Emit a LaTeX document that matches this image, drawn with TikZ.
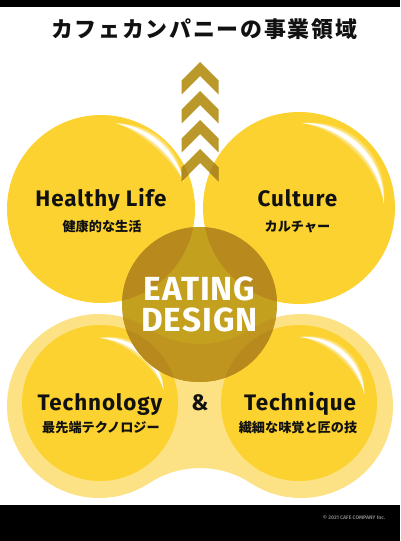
\documentclass[tikz,border=0pt]{standalone}
\usepackage{fontspec}
\setmainfont{Fira Sans}
\newfontfamily\jp{Noto Sans CJK JP}
\newfontfamily\jptitle[LetterSpace=8]{Noto Sans CJK JP}
\newfontfamily\lat[LetterSpace=4]{Fira Sans}
\newfontfamily\latbig[LetterSpace=3]{Fira Sans}
\definecolor{yel}{RGB}{252,210,48}
\definecolor{lyel}{RGB}{252,226,132}
\definecolor{cw}{RGB}{196,160,31}
\definecolor{cy}{RGB}{184,137,28}
\definecolor{cl}{RGB}{191,149,31}
\definecolor{chw}{RGB}{186,153,42}
\definecolor{chy}{RGB}{178,137,30}
\definecolor{ink}{RGB}{17,17,17}
\newcommand\peanutfill[1]{%
  \fill[#1] (99,406) circle[radius=92bp];
  \fill[#1] (301,406) circle[radius=92bp];
  \fill[#1] (99,406) -- plot[domain=236.9:303.1,samples=30] ({200+93*cos(\x)},{561+93*sin(\x)})
     -- (301,406) -- plot[domain=56.9:123.1,samples=30] ({200+93*cos(\x)},{251+93*sin(\x)}) -- cycle;}
\newcommand\chevpath[1]{(200,#1) -- (218.5,#1+18.5) -- (218.5,#1+32.5) -- (200,#1+14) -- (181.5,#1+32.5) -- (181.5,#1+18.5) -- cycle}
\newcommand\glosspath[6]{plot[domain=#4:#5,samples=40] ({#1+(#3+0.5*#6*sin(180*(\x-#4)/(#5-#4)))*cos(\x)},{#2-(#3+0.5*#6*sin(180*(\x-#4)/(#5-#4)))*sin(\x)}) -- plot[domain=#5:#4,samples=40] ({#1+(#3-0.5*#6*sin(180*(\x-#4)/(#5-#4)))*cos(\x)},{#2-(#3-0.5*#6*sin(180*(\x-#4)/(#5-#4)))*sin(\x)}) -- cycle}
\newcommand\gloss[6]{%
  \fill[white,opacity=0.3] \glosspath{#1}{#2}{#3}{#4}{#5}{2.6*#6};
  \fill[white,opacity=0.5] \glosspath{#1}{#2}{#3}{#4}{#5}{1.6*#6};
  \fill[white] \glosspath{#1}{#2}{#3}{#4}{#5}{#6};}
\tikzset{
  lbl/.style={anchor=base,text=ink,font=\lat\bfseries\fontsize{22.5}{26}\selectfont,inner sep=0pt},
  jplbl/.style={anchor=center,text=ink,font=\jp\bfseries\fontsize{13.2}{15}\selectfont,inner sep=0pt},
  big/.style={anchor=base,text=white,font=\latbig\bfseries\fontsize{33.5}{36}\selectfont,inner sep=0pt},
}
\begin{document}
\begin{tikzpicture}[x=1bp,y=-1bp]
\useasboundingbox (0,0) rectangle (400,541);
\fill[white] (0,0) rectangle (400,541);
\fill[black] (0,0) rectangle (400,7);
\fill[black] (0,505) rectangle (400,541);
% lower peanut and inner circles
\peanutfill{lyel}
\fill[yel] (100,403) circle[radius=78bp];
\fill[yel] (299,403) circle[radius=78bp];
% top circles
\fill[yel] (101,209) circle[radius=94bp];
\fill[yel] (299,208) circle[radius=96bp];
% highlights
\gloss{101}{209}{87}{18}{80}{4}
\gloss{299}{208}{85}{3}{88}{4.5}
\gloss{100}{403}{65}{12}{90}{4}
\gloss{299}{403}{66}{8}{89}{4}
% chevrons
\fill[chw] \chevpath{62} \chevpath{91} \chevpath{120} \chevpath{149};
\begin{scope}
  \clip (101,209) circle[radius=94bp];
  \fill[chy] \chevpath{149};
\end{scope}
\begin{scope}
  \clip (299,208) circle[radius=96bp];
  \fill[chy] \chevpath{149};
\end{scope}
% centre circle
\fill[cw] (199.5,304.5) circle[radius=77.5bp];
\begin{scope}
  \clip (199.5,304.5) circle[radius=77.5bp];
  \fill[cy] (101,209) circle[radius=94bp];
  \fill[cy] (299,208) circle[radius=96bp];
  \peanutfill{cl}
  \fill[cy] (100,403) circle[radius=78bp];
  \fill[cy] (299,403) circle[radius=78bp];
\end{scope}
% texts
\node[anchor=center,text=ink,font=\jptitle\bfseries\fontsize{22}{24}\selectfont,inner sep=0pt] (title) at (204,29) {カフェカンパニーの事業領域};
\node[lbl] (hl) at (101,207) {Healthy Life};
\node[jplbl] (hlj) at (102,226.7) {健康的な生活};
\node[lbl] (cu) at (297.5,207) {Culture};
\node[jplbl] (cuj) at (297.5,226.7) {カルチャー};
\node[big] (eat) at (199.5,300) {EATING};
\node[big] (des) at (199.5,331.7) {DESIGN};
\node[lbl] (tg) at (100,410) {Technology};
\node[jplbl] (tgj) at (101,427.5) {最先端テクノロジー};
\node[lbl] (amp) at (200,410) {\&};
\node[lbl] (tq) at (300,410) {Technique};
\node[jplbl] (tqj) at (298,427.5) {繊細な味覚と匠の技};
\node[anchor=center,text=gray,font=\bfseries\fontsize{5.2}{6}\selectfont,inner sep=0pt] (copy) at (354,518) {© 2021 CAFE COMPANY Inc.};
\end{tikzpicture}
\end{document}
